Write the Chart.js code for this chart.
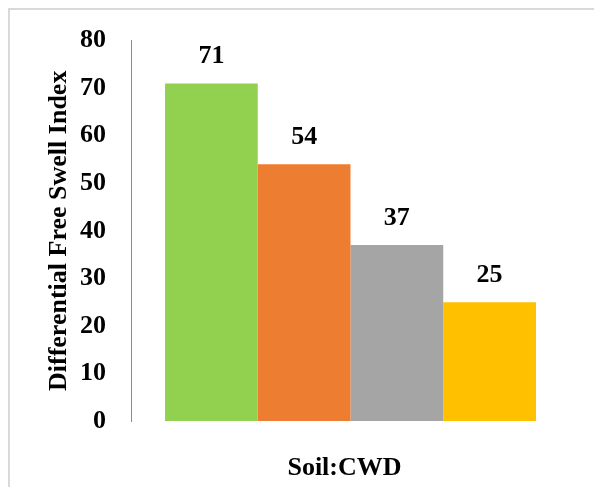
<!DOCTYPE html>
<html>
<head>
<meta charset="utf-8">
<script src="https://cdn.jsdelivr.net/npm/chart.js@4.4.1/dist/chart.umd.min.js"></script>
<style>
  html, body { margin: 0; padding: 0; background: #ffffff; overflow: hidden; }
  #frame {
    position: absolute; left: 8px; top: 8px; width: 620px; height: 520px;
    border: 2px solid #d9d9d9; box-sizing: border-box;
  }
  #chart { position: absolute; left: 0; top: 0; }
</style>
</head>
<body>
<div id="frame"></div>
<canvas id="chart" width="594" height="487"></canvas>
<script>
// Differential free swell index for each soil:CWD mix
const categories = ['Soil:CWD'];
const mixNames = ['Mix 1', 'Mix 2', 'Mix 3', 'Mix 4'];
const dfsIndex = [71, 54, 37, 25];
const barColors = ['#92d050', '#ed7d31', '#a5a5a5', '#ffc000'];
const yTicks = { min: 0, max: 80, step: 10 };
const xTitle = 'Soil:CWD';

const serifBold = { family: '"Liberation Serif", "Times New Roman", serif', weight: 'bold', size: 26 };
const serifBoldCss = 'bold 26px "Liberation Serif", "Times New Roman", serif';

const datasets = dfsIndex.map((v, i) => ({
  label: mixNames[i],
  data: [v],
  backgroundColor: barColors[i],
  borderWidth: 0,
  categoryPercentage: 0.845,
  barPercentage: 1.0
}));

// Value labels above every bar, plus the category title under the plot
const annotations = {
  id: 'annotations',
  afterDatasetsDraw(chart) {
    const ctx = chart.ctx;
    ctx.save();
    ctx.font = serifBoldCss;
    ctx.fillStyle = '#000000';
    ctx.textAlign = 'center';
    ctx.textBaseline = 'middle';
    chart.data.datasets.forEach((ds, i) => {
      const meta = chart.getDatasetMeta(i);
      meta.data.forEach((bar, j) => {
        ctx.fillText(String(ds.data[j]), bar.x, bar.y - 27);
      });
    });
    const area = chart.chartArea;
    const xs = chart.scales.x;
    ctx.fillText(xTitle, (area.left + area.right) / 2 - 6, xs.bottom - 18.5);
    ctx.restore();
  }
};

new Chart(document.getElementById('chart'), {
  type: 'bar',
  data: { labels: categories, datasets },
  options: {
    responsive: false,
    animation: false,
    devicePixelRatio: 1,
    layout: { padding: { top: 38, right: 24, bottom: 0, left: 0 } },
    plugins: { legend: { display: false }, tooltip: { enabled: false } },
    scales: {
      x: {
        grid: { display: false },
        border: { display: false },
        ticks: { display: false },
        title: { display: false },
        afterFit(scale) { scale.height = 66; }
      },
      y: {
        min: yTicks.min,
        max: yTicks.max,
        grid: { display: false, drawTicks: false },
        border: { display: true, color: '#8c8c8c', width: 1 },
        ticks: { stepSize: yTicks.step, color: '#000000', font: serifBold, padding: 25 },
        title: {
          display: true,
          text: 'Differential Free Swell Index',
          color: '#000000',
          font: serifBold,
          padding: { top: 44, bottom: 0 }
        },
        afterFit(scale) { scale.width = 131; }
      }
    }
  },
  plugins: [annotations]
});
</script>
</body>
</html>
